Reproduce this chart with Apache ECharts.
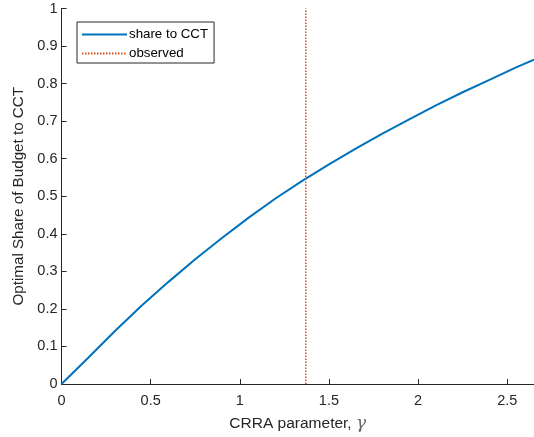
<!DOCTYPE html>
<html>
<head>
<meta charset="utf-8">
<script src="https://cdn.jsdelivr.net/npm/echarts@6/dist/echarts.min.js"></script>
<style>
    html, body { margin: 0; padding: 0; background: #fff; }
    #chart { width: 534px; height: 437px; }
</style>
</head>
<body>
<div id="chart"></div>
<script>
    // CRRA parameter values and optimal share
    const gammaX = [0, 0.15, 0.3, 0.45, 0.6, 0.75, 0.9, 1.05, 1.2, 1.35, 1.5, 1.65, 1.8, 1.95, 2.1, 2.25, 2.4, 2.55, 2.65];
    const shareY = [0, 0.07, 0.141, 0.209, 0.272, 0.332, 0.389, 0.443, 0.494, 0.541, 0.585, 0.627, 0.667, 0.705, 0.742, 0.777, 0.81, 0.843, 0.864];
    const observedX = [1.37, 1.37];
    const observedY = [0, 1];

    const axisColor = '#262626';
    const font = 'Liberation Sans, Arial, sans-serif';

    let option = {
        animation: false,
        textStyle: { fontFamily: font },
        grid: { left: 61.5, right: 0, top: 8.5, bottom: 51 },
        legend: {
            orient: 'vertical',
            left: 77,
            top: 22,
            padding: [6, 6, 3, 4],
            itemGap: 6,
            itemWidth: 45,
            itemHeight: 14,
            borderColor: axisColor,
            borderWidth: 1,
            itemStyle: { opacity: 0 },
            textStyle: { fontSize: 13.3, color: '#000', padding: [0, 0, 0, -3] },
            data: ['share to CCT', 'observed']
        },
        xAxis: {
            type: 'value',
            min: 0,
            max: 2.65,
            interval: 0.5,
            name: '{t|CRRA parameter, }{g|γ}',
            nameLocation: 'middle',
            nameGap: 31,
            nameTextStyle: {
                rich: {
                    t: { fontSize: 15.5, color: axisColor, fontFamily: font },
                    g: { fontSize: 17, color: '#666', fontFamily: 'DejaVu Serif, serif', fontStyle: 'italic' }
                }
            },
            axisLine: { lineStyle: { color: axisColor, width: 1 } },
            axisTick: { inside: true, length: 5, lineStyle: { color: axisColor } },
            axisLabel: { fontSize: 14.5, color: axisColor, margin: 9, showMaxLabel: false },
            splitLine: { show: false }
        },
        yAxis: {
            type: 'value',
            min: 0,
            max: 1,
            interval: 0.1,
            name: 'Optimal Share of Budget to CCT',
            nameLocation: 'middle',
            nameGap: 35,
            nameTextStyle: { fontSize: 15.2, color: axisColor },
            axisLine: { show: true, lineStyle: { color: axisColor, width: 1 } },
            axisTick: { show: true, inside: true, length: 5, lineStyle: { color: axisColor } },
            axisLabel: { fontSize: 14.5, color: axisColor, margin: 4 },
            splitLine: { show: false }
        },
        series: [{
                name: 'share to CCT',
                type: 'line',
                symbol: 'none',
                lineStyle: { color: '#0072BD', width: 2 },
                itemStyle: { color: '#0072BD' },
                data: gammaX.map((x, i) => [x, shareY[i]])
            },
            {
                name: 'observed',
                type: 'line',
                symbol: 'none',
                lineStyle: { color: '#D95319', width: 1.5, type: [1.5, 1.5] },
                itemStyle: { color: '#D95319' },
                data: observedX.map((x, i) => [x, observedY[i]])
            }
        ]
    };

    const myChart = echarts.init(document.getElementById('chart'));
    myChart.setOption(option);
</script>
</body>
</html>
